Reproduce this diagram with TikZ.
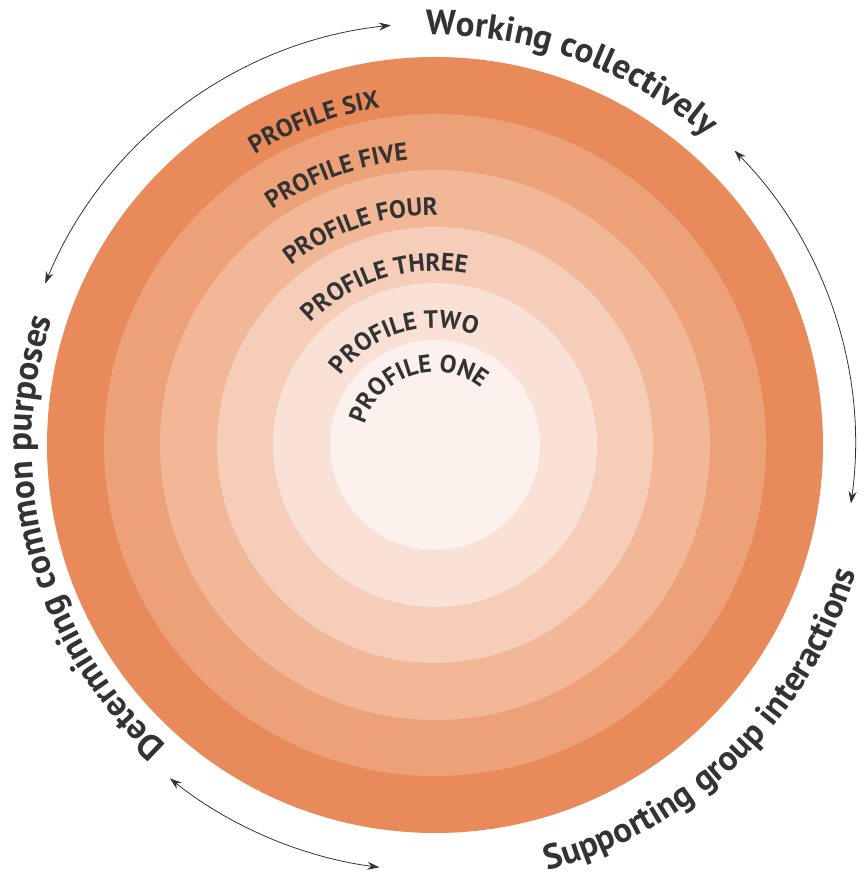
\documentclass[tikz,border=0pt]{standalone}
\usepackage{fontspec}
\setmainfont{PT Sans}
\usetikzlibrary{decorations.text,arrows.meta}
\definecolor{rA}{HTML}{E98A5B}
\definecolor{rB}{HTML}{EDA178}
\definecolor{rC}{HTML}{F1B797}
\definecolor{rD}{HTML}{F5CDB8}
\definecolor{rE}{HTML}{F9E1D5}
\definecolor{rF}{HTML}{FCF1EC}
\definecolor{tx}{HTML}{333333}
\tikzset{
 ptext/.style={decorate,decoration={text along path,text align=center,
   text={|\fontsize{25}{27}\selectfont\bfseries\color{tx}|#1}}},
 otext/.style={decorate,decoration={text along path,text align=center,
   text={|\fontsize{35}{38}\selectfont\bfseries\color{tx}|#1}}},
 arr/.style={draw=tx,line width=0.8pt,{Stealth[length=12pt,width=8pt]}-{Stealth[length=12pt,width=8pt]}}
}
\begin{document}
\begin{tikzpicture}[x=1pt,y=1pt]
\useasboundingbox (0,0) rectangle (864,880);
\coordinate (c) at (435,435);
\fill[rA] (c) circle[radius=388];
\fill[rB] (c) circle[radius=331];
\fill[rC] (c) circle[radius=275];
\fill[rD] (c) circle[radius=218];
\fill[rE] (c) circle[radius=162];
\fill[rF] (c) circle[radius=105];
% profile labels
\path[ptext={PROFILE SIX}] (c) ++(152:342) arc[start angle=152,end angle=69,radius=342];
\path[ptext={PROFILE FIVE}] (c) ++(152:286) arc[start angle=152,end angle=68,radius=286];
\path[ptext={PROFILE FOUR}] (c) ++(152:230) arc[start angle=152,end angle=66,radius=230];
\path[ptext={PROFILE THREE}] (c) ++(165:174) arc[start angle=165,end angle=50,radius=174];
\path[ptext={PROFILE TWO}] (c) ++(180:117) arc[start angle=180,end angle=33,radius=117];
\path[ptext={PROFILE ONE}] (c) ++(200:73) arc[start angle=200,end angle=15,radius=73];
% outer labels
\path[otext={Working collectively}] (c) ++(115:410) arc[start angle=115,end angle=25,radius=410];
\path[otext={Supporting group interactions}] (c) ++(-100:440) arc[start angle=-100,end angle=8,radius=440];
\path[otext={Determining common purposes}] (c) ++(255:403) arc[start angle=255,end angle=135,radius=403];
% arrows
\draw[arr] (c) ++(157.5:422) arc[start angle=157.5,end angle=96,radius=422];
\draw[arr] (c) ++(44.5:420) arc[start angle=44.5,end angle=-8,radius=420];
\draw[arr] (c) ++(231.5:426) arc[start angle=231.5,end angle=262.5,radius=426];
\end{tikzpicture}
\end{document}
